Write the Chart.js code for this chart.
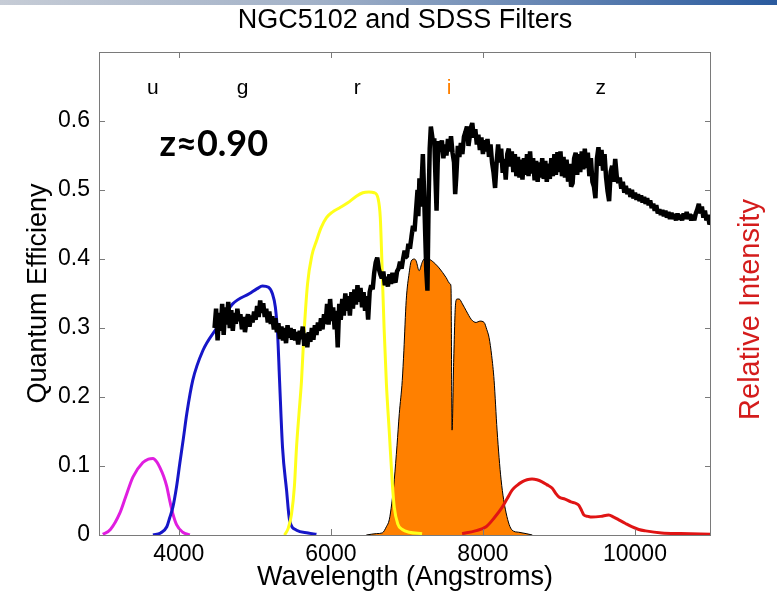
<!DOCTYPE html>
<html><head><meta charset="utf-8">
<script src="https://cdn.jsdelivr.net/npm/chart.js@4.4.1/dist/chart.umd.min.js"></script>
<style>
html,body{margin:0;padding:0;background:#fff;}
#wrap{position:relative;width:777px;height:598px;overflow:hidden;}
#bar{position:absolute;left:0;top:0;width:777px;height:5px;background:linear-gradient(to right,#c6ccd6,#a3b2c8 40%,#2a5a9e);}
canvas{position:absolute;left:0;top:0;}
</style></head><body>
<div id="wrap"><canvas id="c" width="777" height="598"></canvas><div id="bar"></div></div>
<script>
// ---------- data (wavelength in Angstrom, value) ----------
const xTicks = [4000, 6000, 8000, 10000];
const yTicks = [0, 0.1, 0.2, 0.3, 0.4, 0.5, 0.6];
const bandNames = ['u', 'g', 'r', 'i', 'z'];
const bandWave = [3658, 4839, 6348, 7555, 9549];
const bandColors = ['#000', '#000', '#000', '#ff8000', '#000'];
const bandLabelLevel = 0.639;
const redshiftText = 'z≈0.90';
const redshiftWave = 4460;
const redshiftLevel = 0.549;

const uBand = [[3000,0.001],[3100,0.008],[3225,0.032],[3300,0.055],[3396,0.084],[3527,0.105],[3600,0.110],[3660,0.111],[3710,0.106],[3750,0.098],[3800,0.085],[3842,0.070],[3880,0.050],[3921,0.031],[3970,0.015],[4052,0.004],[4144,0.000]];
const gBand = [[3660,0.000],[3760,0.003],[3842,0.012],[3880,0.025],[3921,0.040],[3970,0.070],[4013,0.104],[4060,0.140],[4105,0.176],[4183,0.224],[4315,0.267],[4498,0.300],[4708,0.335],[4931,0.350],[5030,0.357],[5100,0.361],[5180,0.359],[5230,0.350],[5270,0.330],[5300,0.290],[5325,0.224],[5364,0.127],[5417,0.065],[5456,0.022],[5548,0.007],[5700,0.003],[5810,0.001]];
const rBand = [[5390,0.000],[5440,0.010],[5482,0.030],[5520,0.070],[5548,0.127],[5580,0.175],[5614,0.224],[5640,0.280],[5693,0.364],[5750,0.405],[5810,0.426],[5870,0.445],[5942,0.460],[6020,0.468],[6112,0.474],[6217,0.481],[6335,0.491],[6420,0.496],[6500,0.497],[6571,0.496],[6620,0.488],[6650,0.460],[6670,0.400],[6700,0.300],[6730,0.220],[6768,0.150],[6808,0.075],[6834,0.040],[6880,0.016],[6940,0.008],[7030,0.004],[7200,0.002]];
const iBand = [[6466,0.000],[6600,0.002],[6676,0.003],[6730,0.012],[6768,0.022],[6800,0.045],[6834,0.080],[6870,0.130],[6900,0.176],[6939,0.224],[6960,0.267],[6991,0.340],[7030,0.380],[7057,0.397],[7100,0.400],[7122,0.397],[7161,0.383],[7200,0.395],[7227,0.400],[7280,0.400],[7332,0.397],[7424,0.387],[7516,0.373],[7568,0.364],[7580,0.360],[7594,0.152],[7615,0.250],[7640,0.335],[7660,0.342],[7687,0.342],[7730,0.335],[7780,0.325],[7850,0.312],[7911,0.308],[7960,0.310],[8016,0.308],[8050,0.298],[8081,0.286],[8115,0.260],[8147,0.224],[8186,0.152],[8239,0.080],[8305,0.032],[8384,0.007],[8470,0.004],[8568,0.002],[8650,0.000]];
const zBand = [[7726,0.002],[7900,0.006],[8042,0.012],[8150,0.025],[8252,0.040],[8320,0.053],[8384,0.065],[8450,0.072],[8515,0.077],[8580,0.080],[8646,0.081],[8710,0.080],[8778,0.077],[8840,0.073],[8909,0.068],[8960,0.060],[9000,0.055],[9080,0.052],[9157,0.048],[9220,0.046],[9262,0.043],[9300,0.035],[9328,0.029],[9380,0.027],[9433,0.026],[9550,0.027],[9655,0.029],[9720,0.026],[9787,0.022],[9870,0.017],[9957,0.012],[10050,0.008],[10140,0.006],[10350,0.003],[10600,0.002],[11000,0.001]];
const spectrum = [[4470,.300],[4490,.328],[4510,.282],[4530,.322],[4550,.296],[4570,.335],[4590,.290],[4610,.330],[4630,.305],[4650,.338],[4670,.300],[4690,.326],[4710,.296],[4730,.322],[4750,.306],[4770,.328],[4790,.310],[4810,.320],[4830,.298],[4850,.316],[4870,.294],[4890,.310],[4910,.320],[4930,.302],[4950,.318],[4970,.308],[4990,.324],[5010,.312],[5030,.332],[5050,.316],[5070,.340],[5090,.322],[5110,.336],[5130,.316],[5150,.328],[5170,.308],[5190,.324],[5210,.306],[5230,.317],[5250,.298],[5270,.314],[5290,.294],[5310,.307],[5330,.284],[5350,.302],[5370,.282],[5390,.300],[5410,.278],[5430,.304],[5450,.286],[5470,.300],[5490,.283],[5510,.298],[5530,.282],[5550,.294],[5570,.276],[5590,.296],[5610,.284],[5630,.302],[5650,.274],[5670,.292],[5690,.272],[5710,.294],[5730,.280],[5750,.300],[5770,.283],[5790,.304],[5810,.290],[5830,.308],[5850,.296],[5870,.314],[5890,.298],[5910,.320],[5930,.306],[5950,.335],[5970,.305],[5990,.342],[6010,.310],[6030,.330],[6050,.298],[6070,.325],[6090,.272],[6110,.335],[6130,.312],[6150,.342],[6170,.318],[6190,.350],[6210,.325],[6230,.346],[6250,.318],[6270,.352],[6290,.328],[6310,.356],[6330,.334],[6350,.362],[6370,.338],[6390,.358],[6410,.330],[6430,.352],[6450,.325],[6470,.346],[6490,.312],[6510,.352],[6530,.362],[6550,.356],[6570,.380],[6590,.395],[6610,.402],[6630,.386],[6650,.378],[6670,.372],[6690,.382],[6710,.362],[6730,.374],[6750,.360],[6770,.378],[6790,.364],[6810,.380],[6830,.370],[6850,.366],[6870,.382],[6890,.386],[6910,.396],[6930,.386],[6950,.400],[6970,.412],[6990,.403],
[7000,.405],[7020,.422],[7040,.415],[7060,.432],[7080,.448],[7100,.440],[7120,.470],[7140,.500],[7150,.462],[7165,.517],[7180,.476],[7195,.515],[7210,.552],[7225,.500],[7240,.440],[7255,.383],[7270,.354],[7285,.480],[7300,.560],[7315,.592],[7330,.580],[7345,.568],[7360,.575],[7375,.520],[7390,.470],[7405,.540],[7420,.571],[7440,.556],[7460,.572],[7480,.546],[7500,.566],[7520,.550],[7540,.574],[7560,.556],[7580,.578],[7600,.554],[7620,.540],[7635,.494],[7650,.520],[7670,.564],[7690,.548],[7710,.568],[7730,.552],[7750,.577],[7770,.584],[7790,.592],[7810,.564],[7830,.580],
[7840,.590],[7860,.597],[7880,.576],[7900,.588],[7920,.566],[7940,.580],[7960,.558],[7980,.576],[8000,.552],[8020,.572],[8040,.556],[8060,.574],[8080,.548],[8100,.566],[8120,.540],[8140,.525],[8160,.503],[8180,.540],[8200,.566],[8220,.540],[8240,.560],[8260,.525],[8280,.545],[8300,.515],[8320,.552],[8340,.560],[8360,.534],[8380,.556],[8400,.526],[8420,.552],[8440,.520],[8460,.548],[8480,.518],[8500,.544],[8520,.515],[8540,.546],[8560,.522],[8580,.552],[8600,.520],[8620,.556],[8640,.524],[8660,.546],[8680,.514],[8700,.542],[8720,.512],[8740,.540],[8760,.518],[8780,.546],[8800,.516],[8820,.542],[8840,.512],[8860,.538],[8880,.516],[8900,.546],[8920,.520],[8940,.552],[8960,.522],[8980,.555],[9000,.526],[9020,.556],[9040,.520],[9060,.548],[9080,.518],[9100,.544],[9120,.512],[9140,.538],[9160,.505],[9180,.510],[9200,.546],[9220,.554],[9240,.522],[9260,.552],[9280,.526],[9300,.556],[9320,.530],[9340,.560],[9360,.532],[9380,.554],[9400,.520],[9420,.546],[9440,.512],[9460,.505],[9480,.488],[9500,.546],[9520,.562],[9540,.535],[9560,.558],[9580,.528],[9600,.552],[9620,.518],[9640,.498],[9660,.484],[9680,.526],[9700,.535],[9720,.512],[9740,.545],[9760,.520],[9780,.510],[9800,.518],[9820,.502],[9840,.512],[9860,.496],[9880,.506],[9900,.494],[9920,.502],[9940,.490],[9960,.500],[9980,.488],[10000,.496],[10020,.486],[10040,.494],[10060,.484],[10080,.492],[10100,.482],[10120,.490],[10140,.480],[10160,.488],[10180,.478],[10200,.485],[10220,.474],[10240,.480],[10260,.470],[10280,.478],[10300,.466],[10320,.472],[10340,.464],[10360,.471],[10380,.462],[10400,.470],[10420,.460],[10440,.468],[10460,.458],[10480,.467],[10500,.458],[10520,.465],[10540,.456],[10560,.466],[10580,.457],[10600,.464],[10620,.456],[10640,.466],[10660,.458],[10680,.468],[10700,.458],[10720,.465],[10740,.456],[10760,.464],[10780,.456],[10800,.466],[10820,.472],[10840,.480],[10860,.466],[10880,.476],[10900,.460],[10920,.470],[10940,.456],[10960,.464],[10980,.450],[11000,.455]];

// ---------- chart ----------
const FONT = "'Liberation Sans', Arial, Helvetica, sans-serif";
const pts = a => a.map(p => ({x: p[0], y: p[1]}));

const overlay = {
  id: 'overlay',
  afterDatasetsDraw(chart) {
    const {ctx, chartArea: a, scales: {x, y}} = chart;
    ctx.save();
    ctx.strokeStyle = '#7a7a7a';
    ctx.lineWidth = 1;
    ctx.strokeRect(a.left + 0.5, a.top + 0.5, a.right - a.left - 1, a.bottom - a.top);
    ctx.beginPath();
    xTicks.forEach(v => {
      const px = Math.round(x.getPixelForValue(v)) + 0.5;
      ctx.moveTo(px, a.bottom); ctx.lineTo(px, a.bottom - 6);
      ctx.moveTo(px, a.top); ctx.lineTo(px, a.top + 6);
    });
    yTicks.forEach(v => {
      const py = Math.round(y.getPixelForValue(v)) + 0.5;
      ctx.moveTo(a.left, py); ctx.lineTo(a.left + 6, py);
      ctx.moveTo(a.right, py); ctx.lineTo(a.right - 6, py);
    });
    ctx.stroke();
    // band letters
    ctx.font = '21px ' + FONT;
    ctx.textAlign = 'center';
    ctx.textBaseline = 'alphabetic';
    bandNames.forEach((n, i) => {
      ctx.fillStyle = bandColors[i];
      ctx.fillText(n, x.getPixelForValue(bandWave[i]), y.getPixelForValue(bandLabelLevel));
    });
    // redshift
    ctx.font = "bold 36px Lato, 'Open Sans', sans-serif";
    ctx.fillStyle = '#000';
    ctx.fillText(redshiftText, x.getPixelForValue(redshiftWave), y.getPixelForValue(redshiftLevel));
    // right axis title
    ctx.translate(751, (a.top + a.bottom) / 2 + 16);
    ctx.rotate(-Math.PI / 2);
    ctx.font = '29px ' + FONT;
    ctx.fillStyle = '#d41c1c';
    ctx.textBaseline = 'middle';
    ctx.fillText('Relative Intensity', 0, 0);
    ctx.restore();
  }
};

const line = (data, color, width, order) => ({
  data: pts(data), borderColor: color, borderWidth: width, pointRadius: 0,
  fill: false, order: order, cubicInterpolationMode: 'monotone'
});

new Chart(document.getElementById('c'), {
  type: 'line',
  data: {
    datasets: [
      {data: pts(spectrum), borderColor: '#000', borderWidth: 4.5, borderJoinStyle: 'bevel', borderCapStyle: 'butt',
       pointRadius: 0, fill: false, tension: 0, order: 0},
      line(rBand, '#ffff1a', 3, 1),
      line(zBand, '#e01414', 3, 2),
      line(gBand, '#1616c8', 3, 3),
      line(uBand, '#e01ee0', 3, 4),
      {data: pts(iBand), borderColor: '#000', borderWidth: 1, backgroundColor: '#ff8000', fill: 'origin',
       pointRadius: 0, order: 5, cubicInterpolationMode: 'monotone'}
    ]
  },
  options: {
    responsive: false,
    animation: false,
    events: [],
    layout: {padding: {left: 0, right: 66, top: 0, bottom: 0}},
    plugins: {
      legend: {display: false},
      tooltip: {enabled: false},
      title: {display: true, text: 'NGC5102 and SDSS Filters', fullSize: false,
        font: {family: FONT, size: 27, weight: 'normal'}, color: '#000',
        padding: {top: 4, bottom: 15.6}}
    },
    scales: {
      x: {
        type: 'linear', min: 2950, max: 11000,
        afterBuildTicks: s => { s.ticks = xTicks.map(v => ({value: v})); },
        afterFit: s => { s.height = 63; },
        grid: {display: false, drawTicks: false},
        border: {display: false},
        ticks: {font: {family: FONT, size: 23}, color: '#000', padding: 6, maxRotation: 0, autoSkip: false,
          callback: v => String(v)},
        title: {display: true, text: 'Wavelength (Angstroms)', font: {family: FONT, size: 27}, color: '#000',
          padding: {top: 0, bottom: 4}}
      },
      y: {
        type: 'linear', min: 0, max: 0.7,
        afterBuildTicks: s => { s.ticks = yTicks.map(v => ({value: v})); },
        afterFit: s => { s.width = 99; },
        grid: {display: false, drawTicks: false},
        border: {display: false},
        ticks: {font: {family: FONT, size: 23}, color: '#000', padding: 9, autoSkip: false,
          callback: v => String(v)},
        title: {display: true, text: 'Quantum Efficieny', font: {family: FONT, size: 27}, color: '#000',
          padding: {top: 22, bottom: 0}}
      }
    }
  },
  plugins: [overlay]
});
</script>
</body></html>
